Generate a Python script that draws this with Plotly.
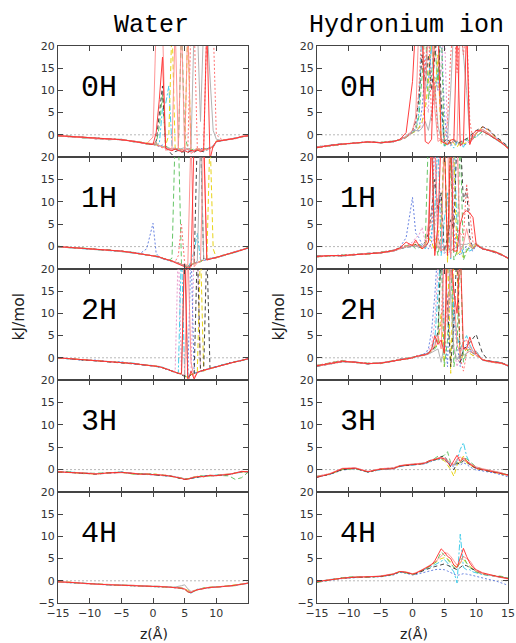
import plotly.graph_objects as go

# shared z grid (Angstrom)
Z = [-15, -13, -11, -9, -7, -5, -3, -2, -1,
     0, 0.5, 1, 1.5, 2, 2.5, 3, 3.5, 4, 4.5,
     5, 5.5, 6, 6.5, 7, 7.5, 8, 8.5, 9, 9.5,
     10, 11, 12, 13, 14, 15]

COLUMN_TITLES = ["Water", "Hydronium ion"]
ROW_LABELS = ["0H", "1H", "2H", "3H", "4H"]
X_TICKS_LEFT = [-15, -10, -5, 0, 5, 10]
X_TICKS_RIGHT = [-15, -10, -5, 0, 5, 10, 15]
Y_TICKS = [0, 5, 10, 15, 20]
Y_TICKS_BOTTOM = [-5, 0, 5, 10, 15, 20]

# ---------------- Water 0H ----------------
W0_BLUE = [-0.2,-0.4,-0.6,-0.8,-1.0,-1.1,-1.5,-1.7,-1.9, -2.2,-2.4,-2.6,-2.3,-2.9,-3.2,-3.4,-3.1,-3.3,-3.6, -3.5,-3.3,-3.7,-3.4,-3.6,-3.0,-3.3,-3.1,-2.8,-2.5, -1.5,-1.3,-1.0,-0.8,-0.5,-0.2]
W0_CYAN = [-0.3,-0.3,-0.7,-0.7,-1.1,-1.0,-1.6,-1.6,-2.1, -2.0,-2.2,-2.0,6.0,7.0,11.0,-2.5,-3.3,-3.5,-3.2, -3.4,-3.6,-3.8,-3.4,-3.1,-3.5,-3.2,-3.5,-3.1,-2.5, -1.6,-1.3,-1.0,-0.8,-0.4,-0.3]
W0_YEL = [-0.2,-0.4,-0.6,-0.8,-1.0,-1.1,-1.5,-1.7,-1.9, -2.0,-2.3,-2.5,-2.8,-2.4,0.0,25,-3.2,-3.0,-3.4, -3.3,25,-3.6,-3.3,-3.2,-3.5,-3.1,-3.3,-3.0,-2.7, -1.4,-1.2,-1.0,-0.8,-0.4,-0.2]
W0_GREEN = [-0.3,-0.3,-0.7,-0.7,-1.1,-1.0,-1.6,-1.6,-2.1, -2.0,-2.1,2.0,9.0,-2.5,-3.0,-3.2,-3.3,-3.0,25, 0.0,-3.0,-3.4,-3.2,-3.5,-3.3,-3.1,-3.4,-2.9,-2.6, -1.5,-1.3,-1.0,-0.8,-0.5,-0.2]
W0_BLACK = [-0.1,-0.5,-0.5,-0.9,-0.9,-1.2,-1.4,-1.8,-2.0, -2.1,-1.5,5.0,11.0,-3.0,-3.6,-4.5,-3.8,-3.5,-3.9, -3.8,-4.0,-3.6,-3.9,-3.5,-3.6,-3.8,-3.2,-3.0,-2.8, -1.5,-1.2,-1.0,-0.8,-0.5,-0.2]
W0_GRAY = [-0.1,-0.5,-0.5,-0.9,-0.9,-1.2,-1.4,-1.8,-2.0, -2.0,-2.2,-2.4,-2.6,-2.9,-3.0,-3.2,-3.0,-3.3,-3.1, -2.9,-3.2,-3.0,25,25,3.0,25,25,12.0,1.0, -1.0,-1.3,-1.0,-0.7,-0.4,-0.2]
W0_RDOT = [-0.2,-0.4,-0.6,-0.8,-1.0,-1.1,-1.5,-1.7,-1.9, -2.1,-2.3,-2.6,-2.9,-3.0,-3.3,-3.1,-3.4,-3.2,-3.5, -3.2,-3.4,25,25,-3.1,-3.3,-3.0,25,25,25, 0.0,-1.2,-1.0,-0.8,-0.4,-0.2]
W0_LRED = [-0.1,-0.5,-0.5,-0.9,-0.9,-1.2,-1.4,-1.8,-2.0, -0.5,25,25,25,-3.5,-3.2,-3.4,-3.0,-3.6,-3.3, -3.5,25,-4.2,-3.8,-3.3,-3.6,-3.2,-3.4,-3.0,-2.8, -1.4,-1.2,-1.1,-0.7,-0.5,-0.1]
W0_LRED2 = [-0.3,-0.3,-0.7,-0.7,-1.1,-1.0,-1.6,-1.6,-2.1, -2.0,-1.8,-2.5,-2.8,-3.1,-3.3,-3.0,25,-3.2,25, -3.4,-3.3,-3.6,-3.5,-3.0,-3.2,-3.5,-3.3,-2.9,-2.6, -1.6,-1.2,-0.9,-0.9,-0.3,-0.3]
W0_RED = [-0.2,-0.4,-0.6,-0.8,-1.0,-1.1,-1.5,-1.7,-1.9, -2.2,0.5,8.0,17.5,-3.0,-3.4,-3.6,-3.2,-3.5,-3.8, -3.6,-3.9,-3.5,-3.7,-3.4,-3.8,-3.5,25,-5.5,-2.5, -1.5,-1.3,-1.0,-0.8,-0.4,-0.2]

# ---------------- Water 1H ----------------
W1_BLUE = [0.0,-0.2,-0.4,-0.6,-0.8,-1.0,-1.3,-1.5,-0.5, 5.2,-1.5,-2.4,-2.7,-3.0,-3.1,-3.4,-3.5,-3.7,-4.0, -4.3,-4.6,-4.1,-3.7,-3.5,-3.2,-3.1,-2.9,-2.6,-2.5, -2.4,-2.1,-1.5,-1.1,-0.7,-0.3]
W1_GREEN = [0.1,-0.3,-0.3,-0.7,-0.7,-1.1,-1.3,-1.7,-1.9, -2.1,-2.1,-2.4,-2.5,-2.9,-3.1,-2.6,25,25,-4.0, -4.3,-4.4,-4.2,-3.7,-3.5,-3.4,-2.9,-2.9,-2.6,-2.7, -2.4,-1.9,-1.7,-1.2,-0.7,-0.2]
W1_RDOT = [0.0,-0.2,-0.4,-0.6,-0.8,-1.0,-1.4,-1.6,-1.8, -2.0,-2.2,-2.3,-2.6,-2.8,-3.0,-3.2,-3.4,-2.0,5.0, -3.8,-4.4,-4.0,-3.8,-3.6,-3.3,-3.0,-2.8,-2.7,-2.6, -2.5,-2.0,-1.6,-1.2,-0.8,-0.3]
W1_CYAN = [-0.1,-0.2,-0.5,-0.6,-0.9,-1.0,-1.5,-1.6,-1.9, -2.0,-2.3,-2.3,-2.7,-2.8,-3.1,-3.2,-3.5,-3.6,-4.0, -4.1,-4.5,-3.5,-1.0,3.0,-3.0,-3.1,-2.8,-2.8,-2.6, -2.5,-2.1,-1.6,-1.3,-0.8,-0.4]
W1_BLACK = [0.0,-0.2,-0.4,-0.6,-0.8,-1.0,-1.4,-1.6,-1.8, -2.0,-2.2,-2.3,-2.6,-2.8,-3.0,-3.2,-3.4,-3.6,-3.9, -4.2,-4.5,-4.2,-3.8,25,25,-3.0,-2.8,-2.7,-2.6, -2.5,-2.0,-1.6,-1.2,-0.8,-0.3]
W1_GRAY = [0.0,-0.3,-0.4,-0.7,-0.8,-1.1,-1.4,-1.7,-1.8, -2.1,-2.2,-2.4,-2.6,-2.9,-3.0,-3.3,-3.4,-3.7,-3.9, -4.3,-4.5,-4.0,-3.9,-3.2,25,-2.6,-2.8,-2.6,-2.6, -2.4,-2.0,-1.6,-1.2,-0.8,-0.3]
W1_YEL = [0.0,-0.2,-0.4,-0.6,-0.8,-1.0,-1.4,-1.6,-1.8, -2.0,-2.2,-2.3,-2.6,-2.8,-3.0,-3.2,-3.4,-3.6,-3.9, -4.2,-4.5,-4.0,-3.8,-3.6,-3.3,-3.0,-2.8,25,-0.5, -2.5,-2.0,-1.6,-1.2,-0.8,-0.3]
W1_LRED = [0.0,-0.2,-0.4,-0.6,-0.8,-1.0,-1.4,-1.6,-1.8, -2.0,-2.2,-2.3,-2.6,-2.8,-3.0,-3.2,-3.4,-3.6,-3.9, -4.2,-4.0,25,-4.5,-3.6,-3.3,25,-3.0,-2.7,-2.6, -2.5,-2.0,-1.6,-1.2,-0.8,-0.3]
W1_RED = [0.0,-0.2,-0.4,-0.6,-0.8,-1.0,-1.4,-1.6,-1.8, -2.0,-2.2,-2.3,-2.6,-2.8,-3.0,-3.2,-3.6,-3.9,-4.1, -4.4,-4.8,-4.5,25,25,25,25,-3.0,-2.8,-2.6, -2.5,-2.0,-1.6,-1.2,-0.8,-0.3]

# ---------------- Water 2H ----------------
W2_PINK = [0.0,-0.2,-0.5,-0.6,-0.9,-1.0,-1.3,-1.5,-1.6, -1.8,-1.9,-2.0,-2.2,-2.5,-2.7,-3.0,-3.0,25,-3.5, -4.0,-4.5,-3.8,25,25,-3.0,-2.8,-2.6,-2.4,-2.2, -2.0,-1.6,-1.2,-0.9,-0.6,-0.2]
W2_CYAN = [-0.1,-0.3,-0.4,-0.7,-0.8,-1.1,-1.2,-1.6,-1.7, -1.7,-2.0,-2.1,-2.1,-2.6,-2.6,-3.1,-3.3,-3.4,25, -3.8,-4.3,-3.9,-3.4,-3.4,-2.9,-2.9,-2.5,-2.5,-2.1, -2.1,-1.5,-1.3,-0.8,-0.7,-0.3]
W2_GRAY = [0.0,-0.2,-0.5,-0.6,-0.9,-1.0,-1.3,-1.5,-1.6, -1.8,-1.9,-2.0,-2.2,-2.5,-2.7,-3.0,-3.2,-3.5,-3.7, 25,-4.0,-3.8,-3.5,-3.3,-3.0,-2.8,-2.6,-2.4,-2.2, -2.0,-1.6,-1.2,-0.9,-0.6,-0.2]
W2_BLUE = [0.1,-0.2,-0.6,-0.5,-0.9,-0.9,-1.4,-1.4,-1.7, -1.8,-2.0,-1.9,-2.3,-2.4,-2.8,-2.9,-3.3,-3.4,-3.8, -4.1,-4.4,25,-3.6,-3.2,-3.1,-2.7,-2.7,-2.3,-2.3, -1.9,-1.7,-1.1,-1.0,-0.5,-0.2]
W2_YEL = [0.0,-0.2,-0.5,-0.6,-0.9,-1.0,-1.3,-1.5,-1.6, -1.8,-1.9,-2.0,-2.2,-2.5,-2.7,-3.0,-3.2,-3.5,-3.7, -4.0,-4.5,-3.8,-3.5,-3.3,25,-3.0,-2.6,-2.4,-2.2, -2.0,-1.6,-1.2,-0.9,-0.6,-0.2]
W2_BLACK = [0.0,-0.3,-0.5,-0.7,-0.9,-1.1,-1.3,-1.5,-1.7, -1.8,-1.9,-2.1,-2.2,-2.5,-2.8,-3.0,-3.2,-3.5,-3.8, -4.1,-4.5,-3.8,-3.6,25,-3.0,-2.9,25,-2.5,-2.2, -2.0,-1.6,-1.2,-0.9,-0.6,-0.2]
W2_LRED = [0.0,-0.2,-0.5,-0.6,-0.9,-1.0,-1.3,-1.5,-1.6, -1.8,-1.9,-2.0,-2.2,-2.5,-2.7,-3.0,-3.2,-3.5,-3.7, -4.0,25,-1.0,-4.5,-3.3,-3.0,-2.8,-2.6,-2.4,-2.2, -2.0,-1.6,-1.2,-0.9,-0.6,-0.2]
W2_RED = [0.0,-0.2,-0.5,-0.6,-0.9,-1.0,-1.3,-1.5,-1.6, -1.8,-1.9,-2.0,-2.2,-2.5,-2.7,-3.0,-3.2,-3.5,-3.5, 25,-5.5,-3.0,-4.8,-3.3,-3.0,-2.8,-2.6,-2.4,-2.2, -2.0,-1.6,-1.2,-0.9,-0.6,-0.2]

# ---------------- Water 3H ----------------
W3_BLUE = [-0.6,-0.6,-0.8,-0.9,-0.8,-0.6,-0.9,-1.0,-1.1, -1.1,-1.1,-1.3,-1.2,-1.3,-1.4,-1.5,-1.6,-1.8,-1.9, -2.1,-2.1,-2.0,-1.8,-1.6,-1.5,-1.5,-1.4,-1.3,-1.3, -1.3,-1.2,-1.1,-0.7,-0.4,-0.5]
W3_CYAN = [-0.4,-0.6,-0.7,-0.9,-0.7,-0.5,-0.9,-1.0,-1.0, -1.0,-1.1,-1.2,-1.2,-1.3,-1.4,-1.4,-1.6,-1.7,-1.9, -2.0,-2.2,-1.9,-1.9,-1.7,-1.6,-1.6,-1.4,-1.3,-1.4, -1.2,-1.2,-1.0,-0.8,-0.5,-0.4]
W3_YEL = [-0.5,-0.6,-0.8,-1.0,-0.7,-0.6,-1.0,-1.0,-1.0, -1.1,-1.0,-1.2,-1.2,-1.3,-1.4,-1.5,-1.6,-1.8,-1.9, -2.1,-2.1,-1.8,-1.7,-1.6,-1.4,-1.6,-1.5,-1.3,-1.3, -1.3,-1.2,-1.0,-0.8,-0.5,-0.5]
W3_GREEN = [-0.5,-0.5,-0.9,-0.8,-0.7,-0.6,-1.0,-0.9,-1.0, -1.0,-1.2,-1.2,-1.2,-1.4,-1.3,-1.6,-1.5,-1.9,-1.8, -2.0,-2.0,-2.1,-1.6,-1.7,-1.4,-1.5,-1.5,-1.4,-1.2, -1.3,-1.3,-1.4,-2.2,-1.8,-0.6]
W3_BLACK = [-0.5,-0.7,-0.8,-1.0,-0.8,-0.6,-0.9,-1.1,-1.0, -1.1,-1.1,-1.2,-1.3,-1.3,-1.4,-1.5,-1.7,-1.8,-2.0, -2.2,-2.2,-1.9,-1.8,-1.6,-1.5,-1.5,-1.4,-1.4,-1.4, -1.3,-1.2,-1.1,-0.8,-0.5,-0.5]
W3_LRED = [-0.4,-0.7,-0.7,-0.9,-0.8,-0.7,-0.8,-1.1,-0.9, -1.2,-1.1,-1.1,-1.3,-1.2,-1.5,-1.4,-1.7,-1.7,-1.9, -2.1,-2.2,-1.8,-1.7,-1.5,-1.6,-1.5,-1.5,-1.2,-1.3, -1.4,-1.1,-1.0,-0.8,-0.5,-0.4]
W3_RED = [-0.5,-0.6,-0.8,-1.0,-0.7,-0.6,-0.9,-1.0,-1.0, -1.1,-1.0,-1.2,-1.1,-1.3,-1.4,-1.5,-1.6,-1.8,-2.0, -2.2,-2.1,-1.9,-1.8,-1.6,-1.5,-1.6,-1.4,-1.3,-1.4, -1.3,-1.2,-1.1,-0.7,-0.4,-0.5]

# ---------------- Water 4H ----------------
W4_BLUE = [-0.3,-0.4,-0.6,-0.8,-0.9,-1.1,-1.1,-1.2,-1.2, -1.3,-1.3,-1.3,-1.4,-1.4,-1.5,-1.5,-1.6,-1.6,-1.7, -1.9,-2.3,-2.5,-2.2,-1.9,-1.8,-1.7,-1.6,-1.5,-1.4, -1.4,-1.3,-1.2,-1.0,-0.8,-0.6]
W4_CYAN = [-0.2,-0.4,-0.5,-0.7,-0.9,-1.0,-1.0,-1.1,-1.2, -1.2,-1.2,-1.2,-1.3,-1.4,-1.4,-1.4,-1.5,-1.5,-1.6, -1.8,-2.4,-2.8,-2.3,-2.0,-1.8,-1.6,-1.6,-1.5,-1.4, -1.4,-1.3,-1.2,-1.0,-0.7,-0.5]
W4_YEL = [-0.2,-0.3,-0.6,-0.7,-0.8,-1.0,-1.1,-1.1,-1.1, -1.2,-1.3,-1.3,-1.3,-1.3,-1.4,-1.5,-1.5,-1.6,-1.6, -1.8,-2.2,-2.5,-2.2,-2.1,-1.9,-1.6,-1.5,-1.5,-1.4, -1.3,-1.3,-1.1,-1.0,-0.8,-0.5]
W4_GREEN = [-0.3,-0.4,-0.6,-0.7,-0.9,-1.0,-1.1,-1.2,-1.2, -1.2,-1.3,-1.3,-1.4,-1.4,-1.4,-1.5,-1.5,-1.6,-1.7, -1.9,-2.5,-2.6,-2.4,-2.0,-1.9,-1.7,-1.7,-1.5,-1.5, -1.5,-1.3,-1.2,-1.1,-0.8,-0.5]
W4_GRAY = [-0.2,-0.4,-0.5,-0.7,-0.9,-0.9,-1.1,-1.1,-1.2, -1.2,-1.3,-1.3,-1.3,-1.4,-1.4,-1.5,-1.4,-1.3,-1.1, -0.9,-1.8,-2.4,-2.2,-2.0,-1.8,-1.7,-1.6,-1.4,-1.5, -1.4,-1.3,-1.2,-1.0,-0.8,-0.5]
W4_LRED = [-0.3,-0.3,-0.6,-0.8,-0.8,-1.0,-1.0,-1.2,-1.1, -1.3,-1.2,-1.2,-1.4,-1.3,-1.5,-1.4,-1.6,-1.6,-1.6, -1.8,-2.3,-2.5,-2.2,-2.1,-1.8,-1.8,-1.5,-1.6,-1.4, -1.5,-1.2,-1.3,-1.0,-0.7,-0.6]
W4_RED = [-0.2,-0.4,-0.6,-0.7,-0.9,-1.0,-1.1,-1.1,-1.2, -1.2,-1.2,-1.3,-1.3,-1.4,-1.4,-1.5,-1.5,-1.6,-1.7, -1.9,-2.5,-2.7,-2.3,-2.0,-1.9,-1.7,-1.6,-1.5,-1.5, -1.4,-1.3,-1.2,-1.0,-0.8,-0.5]

# ---------------- Hydronium 0H ----------------
H0_BLUE = [-2.8,-2.4,-2.1,-1.9,-1.6,-1.8,-1.5,-1.1,-0.5, 0.8,1.2,1.0,6.0,15.0,25,12.0,13.0,10.0,25, 5.0,-2.0,-2.5,-1.5,-2.2,-1.8,-2.5,-2.0,-1.5,-1.0, 0.2,1.8,1.0,-0.5,-1.6,-3.2]
H0_PINK = [-2.9,-2.5,-2.2,-1.8,-1.7,-1.7,-1.4,-1.2,-0.6, 0.5,1.0,2.0,1.5,8.0,5.0,25,25,10.0,14.0, 25,0.0,-2.0,-1.5,-1.8,-2.5,-1.0,-1.5,-1.8,-1.0, 0.5,1.2,0.3,-0.8,-1.8,-3.0]
H0_CYAN = [-2.7,-2.3,-2.0,-1.9,-1.5,-1.8,-1.6,-1.0,-0.4, 0.6,1.5,5.0,25,10.0,12.0,20.0,9.0,15.0,6.0, -2.8,-1.8,-2.0,-3.0,-1.5,-2.0,-2.8,-1.2,-1.0,-0.5, -0.5,0.8,0.0,-1.0,-2.0,-2.8]
H0_YEL = [-2.8,-2.4,-2.1,-1.9,-1.6,-1.8,-1.5,-1.1,-0.5, 0.4,0.8,1.5,3.0,6.0,12.0,25,8.0,18.0,-2.0, -1.5,-2.5,-1.0,-2.0,-2.8,-1.5,-2.0,-1.8,-1.2,-0.8, 0.2,1.8,1.0,-0.5,-1.6,-3.2]
H0_GREEN = [-2.9,-2.5,-2.2,-1.8,-1.7,-1.7,-1.4,-1.2,-0.6, 0.5,1.0,4.0,13.0,25,8.0,14.0,20.0,12.0,25, -2.5,-1.5,-2.0,-1.0,-1.6,-2.2,-1.4,-1.0,-1.4,-0.6, -0.5,0.8,0.0,-1.0,-2.0,-2.8]
H0_BLACK = [-2.7,-2.3,-2.0,-1.9,-1.5,-1.8,-1.6,-1.0,-0.4, 1.0,3.0,8.0,18.0,12.0,18.0,10.0,16.0,25,8.0, -1.5,-1.0,-1.8,-1.2,-2.0,-1.6,-1.2,-0.8,-0.5,0.5, 1.0,1.8,1.2,-0.3,-1.4,-2.6]
H0_GRAY = [-2.8,-2.4,-2.1,-1.9,-1.6,-1.8,-1.5,-1.1,-0.5, 0.5,1.0,0.8,1.5,3.0,1.0,5.0,11.0,2.0,-1.0, -1.2,-1.0,10.0,25,25,25,18.0,10.0,0.0,-0.8, 0.5,1.2,0.3,-0.8,-1.8,-3.0]
H0_RDOT = [-2.9,-2.5,-2.2,-1.8,-1.7,-1.7,-1.4,-1.2,-0.6, 0.6,2.0,10.0,25,14.0,25,3.0,12.0,-0.5,-1.5, -1.0,3.0,18.0,25,14.0,25,18.0,25,3.0,-1.0, 0.2,1.8,1.0,-0.5,-1.6,-3.2]
H0_LRED = [-2.7,-2.3,-2.0,-1.9,-1.5,-1.8,-1.6,-1.0,-0.4, 1.0,4.0,25,25,8.0,25,25,6.0,-1.5,-1.0, -2.0,-1.5,-2.2,-1.0,-1.5,25,25,25,-2.0,-0.5, 0.5,1.2,0.3,-0.8,-1.8,-3.0]
H0_RED = [-2.9,-2.4,-2.1,-1.9,-1.6,-1.8,-1.5,-1.1,0.5, 12.0,25,25,25,-1.5,-2.0,-1.0,25,25,-1.5, -1.8,-2.2,-1.2,-1.0,25,-2.5,-1.8,25,-2.2,0.2, 1.0,0.8,0.0,-0.9,-1.8,-3.0]

# ---------------- Hydronium 1H ----------------
H1_BLUE = [-2.2,-2.0,-1.9,-1.8,-1.6,-1.3,-0.8,-0.2,2.0, 11.0,3.0,2.0,0.5,0.0,-0.5,1.0,25,2.0,-1.0, -1.5,-0.5,25,3.0,-1.0,-2.0,-0.5,0.0,-0.5,-1.0, 0.3,-0.6,-0.9,-1.3,-1.9,-2.6]
H1_PINK = [-2.3,-2.1,-1.9,-1.7,-1.7,-1.3,-0.8,-0.3,0.2, 1.0,2.0,2.5,4.3,1.0,0.5,-0.5,3.0,25,4.0, -1.0,-2.0,-0.5,15.0,25,-0.5,-1.5,-1.0,0.0,-0.5, 0.5,-0.5,-0.8,-1.2,-1.8,-2.6]
H1_CYAN = [-2.1,-2.0,-2.1,-1.8,-1.5,-1.4,-1.0,-0.5,-0.1, 0.2,0.0,0.5,0.3,-0.5,1.0,3.0,8.0,25,-2.0, 6.0,12.0,-3.0,25,4.0,0.0,-1.5,-0.5,-1.0,-0.5, 0.2,-0.3,-0.9,-1.3,-1.9,-2.5]
H1_YEL = [-2.2,-2.0,-2.0,-1.8,-1.6,-1.4,-0.9,-0.4,0.0, 0.3,0.5,0.0,-0.5,0.5,2.0,1.0,-1.0,3.0,5.0, 25,-3.5,25,20.0,-2.0,-1.0,-2.5,-1.0,0.5,-0.5, 0.8,-0.6,-0.7,-1.1,-1.7,-2.7]
H1_GREEN = [-2.3,-2.1,-1.9,-1.7,-1.7,-1.3,-0.8,-0.3,0.2, 0.2,-0.5,0.5,0.0,0.5,25,25,2.0,-2.0,3.0, 25,-1.5,20.0,-3.0,-1.0,25,-3.0,-1.0,0.0,-0.5, 0.5,-0.5,-0.8,-1.2,-1.8,-2.6]
H1_BLACK = [-2.1,-2.0,-2.1,-1.8,-1.5,-1.4,-1.0,-0.5,-0.1, 0.0,0.5,-0.3,0.2,1.0,3.0,8.0,15.0,8.0,12.0, -1.0,2.0,6.0,4.0,25,25,10.0,13.0,2.0,-0.5, 0.2,-0.3,-0.9,-1.3,-1.9,-2.5]
H1_GRAY = [-2.2,-2.0,-2.0,-1.8,-1.6,-1.4,-0.9,-0.4,0.0, 0.1,0.2,-0.2,0.0,0.0,1.0,25,-1.0,0.0,-0.5, -1.0,0.5,-1.0,-0.5,0.0,0.5,0.5,0.5,0.8,0.3, 0.8,-0.6,-0.7,-1.1,-1.7,-2.7]
H1_RDOT = [-2.3,-2.1,-1.9,-1.7,-1.7,-1.3,-0.8,-0.3,0.2, 0.5,1.0,0.2,-0.3,0.8,2.0,6.0,25,2.0,-1.0, -0.5,1.0,-1.5,0.0,4.0,3.0,2.0,14.0,8.0,1.0, 0.5,-0.5,-0.8,-1.2,-1.8,-2.6]
H1_LRED = [-2.1,-2.0,-2.1,-1.8,-1.5,-1.4,-1.0,-0.5,-0.1, 0.4,0.0,0.3,-0.2,0.5,5.0,25,25,0.0,-1.0, 25,25,-2.5,25,25,-1.0,0.5,4.0,1.0,-0.5, 0.2,-0.3,-0.9,-1.3,-1.9,-2.5]
H1_RED = [-2.2,-2.0,-2.0,-1.8,-1.6,-1.4,-0.9,-0.3,1.0, 0.2,1.5,0.3,-0.5,0.0,1.0,25,-2.0,5.0,25, 25,-2.0,25,-1.0,-1.0,5.0,7.5,8.0,7.5,6.5, 0.5,-0.5,-0.8,-1.2,-1.8,-2.6]

# ---------------- Hydronium 2H ----------------
H2_BLUE = [-1.8,-1.3,-0.8,-1.0,-1.3,-1.2,-0.7,-0.4,-0.2, 0.0,0.3,0.5,0.7,1.0,2.0,6.0,14.0,25,25, 6.0,-2.0,25,8.0,3.0,-2.0,2.0,3.0,2.0,1.0, 0.5,-0.3,-0.9,-1.1,-1.3,-1.7]
H2_PINK = [-1.7,-1.2,-0.6,-1.1,-1.2,-1.3,-0.6,-0.5,-0.1, 0.1,0.3,0.4,0.6,0.8,1.5,3.0,8.0,20.0,25, 4.0,12.0,25,2.0,-2.0,1.0,2.5,2.0,1.5,0.5, 1.0,-0.5,-0.8,-1.0,-1.2,-1.8]
H2_CYAN = [-1.9,-1.4,-0.9,-0.9,-1.4,-1.1,-0.8,-0.3,-0.3, 0.0,0.2,0.4,0.6,0.8,1.2,2.0,4.0,15.0,25, 25,20.0,25,10.0,5.0,2.0,3.5,5.0,3.0,1.5, 1.5,-0.6,-0.7,-0.9,-1.1,-1.9]
H2_YEL = [-1.8,-1.3,-0.8,-1.0,-1.3,-1.2,-0.7,-0.4,-0.2, 0.0,0.3,0.4,0.5,0.7,1.0,1.5,2.5,3.0,10.0, -2.0,25,-3.5,25,20.0,-1.0,1.0,2.0,1.0,0.5, 0.5,-0.3,-0.9,-1.1,-1.3,-1.7]
H2_GREEN = [-1.7,-1.2,-0.6,-1.1,-1.2,-1.3,-0.6,-0.5,-0.1, 0.1,0.3,0.4,0.6,0.7,1.0,1.8,2.0,3.0,25, -2.0,4.0,25,-2.0,3.0,25,-1.0,1.5,2.0,1.0, 1.0,-0.5,-0.8,-1.0,-1.2,-1.8]
H2_BLACK = [-1.9,-1.4,-0.9,-0.9,-1.4,-1.1,-0.8,-0.3,-0.3, 0.0,0.3,0.4,0.6,0.7,1.0,1.5,2.5,6.0,25, 25,10.0,-2.0,8.0,25,-1.0,2.0,2.5,3.5,4.5, 5.3,1.0,-0.7,-0.9,-1.1,-1.7]
H2_GRAY = [-1.8,-1.3,-0.8,-1.0,-1.3,-1.2,-0.7,-0.4,-0.2, 0.0,0.2,0.3,0.5,0.6,0.8,1.2,1.5,2.0,-1.0, 3.0,25,12.0,2.0,-0.5,1.0,0.5,1.0,1.5,1.0, 1.5,-0.6,-0.7,-0.9,-1.1,-1.9]
H2_RDOT = [-1.7,-1.2,-0.6,-1.1,-1.2,-1.3,-0.6,-0.5,-0.1, 0.0,0.3,0.4,0.6,0.7,1.0,2.0,2.5,4.0,8.0, 25,25,25,25,25,0.0,-3.0,1.0,2.0,1.0, 1.0,-0.5,-0.8,-1.0,-1.2,-1.8]
H2_LRED = [-1.9,-1.4,-0.9,-0.9,-1.4,-1.1,-0.8,-0.3,-0.3, 0.0,0.3,0.4,0.6,0.7,1.0,1.5,3.0,5.0,2.0, 25,8.0,20.0,15.0,3.0,1.0,3.5,4.0,2.5,1.5, 0.5,-0.3,-0.9,-1.1,-1.3,-1.7]
H2_RED = [-1.8,-1.3,-0.8,-1.0,-1.3,-1.2,-0.7,-0.4,-0.2, 0.0,0.3,0.4,0.6,0.7,1.0,2.0,5.0,3.0,4.0, 1.0,25,25,15.0,10.0,25,2.0,2.0,4.7,2.5, 1.0,-0.5,-0.8,-1.0,-1.2,-1.8]

# ---------------- Hydronium 3H ----------------
H3_BLUE = [-1.7,-1.1,-0.1,0.2,-0.6,0.0,0.2,0.7,0.9, 1.0,1.0,1.1,1.2,1.3,1.6,1.9,2.1,2.2,2.3, 2.1,1.6,1.0,0.6,1.5,1.0,1.5,1.2,0.6,0.2, -0.1,-0.3,-0.5,-0.8,-1.2,-1.6]
H3_PINK = [-1.5,-0.9,0.2,0.4,-0.4,0.2,0.4,0.9,1.1, 1.2,1.2,1.3,1.4,1.5,1.9,2.1,2.4,2.6,2.5, 2.2,1.9,1.4,1.2,2.2,2.0,2.3,2.1,1.5,1.0, 0.5,0.1,-0.2,-0.5,-0.8,-1.2]
H3_CYAN = [-1.6,-1.1,0.1,0.3,-0.6,0.0,0.3,0.7,1.0, 1.0,1.1,1.2,1.3,1.4,1.7,2.0,2.2,2.3,2.4, 2.2,1.8,1.3,1.0,2.0,4.5,6.0,3.0,1.5,0.8, 0.4,0.1,-0.2,-0.5,-0.8,-1.3]
H3_YEL = [-1.6,-1.0,0.0,0.3,-0.5,0.1,0.3,0.8,1.0, 1.1,1.1,1.2,1.3,1.4,1.8,2.0,2.2,2.4,2.3, 2.0,1.0,0.0,-1.5,1.0,2.0,3.0,1.5,1.0,0.5, 0.2,0.0,-0.3,-0.6,-0.9,-1.3]
H3_GREEN = [-1.5,-1.0,0.1,0.2,-0.5,0.1,0.3,0.8,1.0, 1.1,1.2,1.2,1.4,1.5,1.9,2.2,2.5,3.0,2.8, 3.2,4.0,1.5,1.0,1.8,1.5,2.6,2.4,1.8,1.2, 0.6,0.1,-0.2,-0.4,-0.7,-1.1]
H3_BLACK = [-1.7,-1.0,0.0,0.3,-0.5,0.1,0.3,0.8,0.9, 1.1,1.1,1.2,1.3,1.4,1.7,2.0,2.2,2.4,2.9, 3.0,2.0,0.5,0.0,1.5,1.2,2.0,1.8,1.0,0.6, 0.3,-0.1,-0.4,-0.6,-0.9,-1.2]
H3_LRED = [-1.5,-0.9,0.3,0.4,-0.4,0.2,0.4,0.9,1.1, 1.2,1.2,1.3,1.4,1.5,1.8,2.0,2.3,2.6,2.7, 2.5,2.0,1.5,1.0,2.4,2.8,2.2,1.8,1.4,1.0, 0.6,0.2,-0.1,-0.4,-0.7,-1.4]
H3_RED = [-1.7,-1.0,0.2,0.3,-0.5,0.1,0.2,0.8,1.0, 1.1,1.1,1.2,1.3,1.5,1.9,2.1,2.3,2.5,2.6, 2.4,1.5,0.8,2.0,3.2,1.8,2.6,2.0,1.2,0.8, 0.3,0.0,-0.3,-0.5,-0.8,-1.2]

# ---------------- Hydronium 4H ----------------
H4_BLUE = [-0.3,0.1,0.5,0.7,0.8,0.9,1.3,1.9,1.7, 1.3,1.4,1.6,1.8,2.0,2.2,2.4,2.5,2.6,2.6, 2.5,2.2,1.8,1.5,1.2,1.4,1.6,1.5,1.4,1.2, 1.0,0.6,0.3,0.0,-0.5,-1.0]
H4_CYAN = [-0.2,0.3,0.6,0.8,0.9,1.0,1.5,2.0,1.9, 1.4,1.6,1.9,2.3,2.6,2.9,3.2,3.6,4.0,4.5, 4.8,4.0,3.0,2.0,-0.5,10.5,3.0,2.5,2.5,2.0, 1.8,1.4,1.2,1.0,0.8,0.6]
H4_YEL = [-0.2,0.2,0.6,0.8,0.9,1.0,1.5,2.1,1.9, 1.5,1.7,2.0,2.4,2.8,3.1,3.5,4.0,4.5,5.0, 5.2,5.0,4.2,3.5,3.0,4.0,4.8,4.0,3.2,2.6, 2.1,1.6,1.3,1.1,0.8,0.6]
H4_GREEN = [-0.4,0.1,0.7,1.0,0.8,1.0,1.4,2.0,1.8, 1.5,1.6,2.0,2.3,2.7,3.0,3.8,4.0,5.0,6.5, 5.8,4.8,4.0,3.0,2.8,4.5,5.5,4.0,3.0,2.4, 2.0,1.5,1.2,1.2,1.0,0.6]
H4_BLACK = [-0.2,0.2,0.6,0.8,0.9,1.0,1.5,2.1,1.9, 1.5,1.6,1.9,2.2,2.5,2.8,3.0,3.2,3.4,3.6, 3.8,3.5,3.2,2.8,2.5,3.0,3.6,3.4,3.0,2.6, 2.2,1.6,1.3,1.0,0.8,0.5]
H4_LRED = [-0.1,0.2,0.5,0.9,0.9,1.1,1.6,2.1,2.0, 1.6,1.8,2.1,2.5,2.9,3.3,3.8,4.2,4.8,5.5, 6.3,6.2,5.5,4.5,3.5,4.0,5.5,5.0,4.5,3.5, 2.2,1.6,1.3,1.0,0.7,0.4]
H4_RED = [-0.2,0.2,0.6,0.8,0.9,1.0,1.5,2.1,1.9, 1.5,1.7,2.0,2.4,2.8,3.2,3.6,4.5,6.0,7.2, 6.5,5.5,5.0,3.5,3.0,5.0,7.3,5.5,4.0,3.0, 2.5,1.8,1.4,1.1,0.8,0.5]

STYLE = {
    "RED":   ("#ff2a2a", "solid"),
    "LRED":  ("#ff8a8a", "solid"),
    "RDOT":  ("#ff6464", "2px,2px"),
    "PINK":  ("#e890c8", "2px,2px"),
    "GREEN": ("#58c058", "5px,3px"),
    "BLUE":  ("#5a78e0", "2px,2px"),
    "CYAN":  ("#30c8e8", "6px,2px,2px,2px"),
    "YEL":   ("#e6d000", "5px,3px"),
    "GRAY":  ("#aaaaaa", "solid"),
    "BLACK": ("#303030", "4px,3px"),
}

PANELS = [
    [[("BLUE", W0_BLUE), ("CYAN", W0_CYAN), ("YEL", W0_YEL), ("GREEN", W0_GREEN), ("BLACK", W0_BLACK),
      ("GRAY", W0_GRAY), ("RDOT", W0_RDOT), ("LRED", W0_LRED), ("LRED", W0_LRED2), ("RED", W0_RED)],
     [("BLUE", H0_BLUE), ("PINK", H0_PINK), ("CYAN", H0_CYAN), ("YEL", H0_YEL), ("GREEN", H0_GREEN),
      ("BLACK", H0_BLACK), ("GRAY", H0_GRAY), ("RDOT", H0_RDOT), ("LRED", H0_LRED), ("RED", H0_RED)]],
    [[("BLUE", W1_BLUE), ("CYAN", W1_CYAN), ("YEL", W1_YEL), ("GREEN", W1_GREEN), ("BLACK", W1_BLACK),
      ("GRAY", W1_GRAY), ("RDOT", W1_RDOT), ("LRED", W1_LRED), ("RED", W1_RED)],
     [("BLUE", H1_BLUE), ("PINK", H1_PINK), ("CYAN", H1_CYAN), ("YEL", H1_YEL), ("GREEN", H1_GREEN),
      ("BLACK", H1_BLACK), ("GRAY", H1_GRAY), ("RDOT", H1_RDOT), ("LRED", H1_LRED), ("RED", H1_RED)]],
    [[("PINK", W2_PINK), ("CYAN", W2_CYAN), ("GRAY", W2_GRAY), ("BLUE", W2_BLUE), ("YEL", W2_YEL),
      ("BLACK", W2_BLACK), ("LRED", W2_LRED), ("RED", W2_RED)],
     [("BLUE", H2_BLUE), ("PINK", H2_PINK), ("CYAN", H2_CYAN), ("YEL", H2_YEL), ("GREEN", H2_GREEN),
      ("BLACK", H2_BLACK), ("GRAY", H2_GRAY), ("RDOT", H2_RDOT), ("LRED", H2_LRED), ("RED", H2_RED)]],
    [[("BLUE", W3_BLUE), ("CYAN", W3_CYAN), ("YEL", W3_YEL), ("GREEN", W3_GREEN), ("BLACK", W3_BLACK),
      ("LRED", W3_LRED), ("RED", W3_RED)],
     [("BLUE", H3_BLUE), ("PINK", H3_PINK), ("CYAN", H3_CYAN), ("YEL", H3_YEL), ("GREEN", H3_GREEN),
      ("BLACK", H3_BLACK), ("LRED", H3_LRED), ("RED", H3_RED)]],
    [[("BLUE", W4_BLUE), ("CYAN", W4_CYAN), ("YEL", W4_YEL), ("GREEN", W4_GREEN), ("GRAY", W4_GRAY),
      ("LRED", W4_LRED), ("RED", W4_RED)],
     [("BLUE", H4_BLUE), ("CYAN", H4_CYAN), ("YEL", H4_YEL), ("GREEN", H4_GREEN), ("BLACK", H4_BLACK),
      ("LRED", H4_LRED), ("RED", H4_RED)]],
]

W, H = 516, 643
COL_X = [(58, 248), (317, 508)]
ROW_EDGES = [46, 157, 269, 380, 492, 603]

fig = go.Figure()
layout = dict(width=W, height=H, margin=dict(l=0, r=0, t=0, b=0, autoexpand=False),
              paper_bgcolor="white", plot_bgcolor="white", showlegend=False)
annotations = []
shapes = []
AXC = "#444444"
TICKFONT = dict(family="DejaVu Sans", size=11, color="#333333")

for r in range(5):
    for c in range(2):
        n = r * 2 + c + 1
        xs = "x" if n == 1 else f"x{n}"
        ys = "y" if n == 1 else f"y{n}"
        xk = "xaxis" if n == 1 else f"xaxis{n}"
        yk = "yaxis" if n == 1 else f"yaxis{n}"
        for name, vals in PANELS[r][c]:
            assert len(vals) == len(Z), (r, c, name, len(vals))
            col, dash = STYLE[name]
            fig.add_trace(go.Scatter(x=Z, y=vals, mode="lines", xaxis=xs, yaxis=ys,
                                     line=dict(color=col, width=1, dash=dash),
                                     opacity=0.9, hoverinfo="skip"))
        x0, x1 = COL_X[c]
        ytop, ybot = ROW_EDGES[r], ROW_EDGES[r + 1]
        xt = X_TICKS_LEFT if c == 0 else X_TICKS_RIGHT
        layout[xk] = dict(domain=[x0 / W, x1 / W], range=[-15, 15], anchor=ys, automargin=False,
                          tickvals=xt, ticks="inside", ticklen=5, tickwidth=1, tickcolor=AXC,
                          showticklabels=(r == 4), tickfont=TICKFONT,
                          showline=True, linecolor=AXC, linewidth=1.3, mirror="ticks",
                          showgrid=False, zeroline=False)
        layout[yk] = dict(domain=[1 - ybot / H, 1 - ytop / H], range=[-5, 20], anchor=xs,
                          automargin=False,
                          tickvals=(Y_TICKS_BOTTOM if r == 4 else Y_TICKS),
                          ticks="inside", ticklen=5, tickwidth=1, tickcolor=AXC,
                          tickfont=TICKFONT, showline=True, linecolor=AXC, linewidth=1.3,
                          mirror="ticks", showgrid=False, zeroline=False)
        shapes.append(dict(type="line", xref=f"{xs} domain", yref=ys, x0=0, x1=1, y0=0, y1=0,
                           line=dict(color="#b8b8b8", width=1, dash="2px,2px"), layer="below"))
        annotations.append(dict(text=ROW_LABELS[r], xref=xs, yref=ys, x=-8.6, y=10.6,
                                showarrow=False, xanchor="center", yanchor="middle",
                                font=dict(family="Liberation Mono", size=30, color="black")))

for c, title in enumerate(COLUMN_TITLES):
    cx = [151, 406.5][c]
    annotations.append(dict(text=title, xref="paper", yref="paper", x=cx / W, y=1 - 25 / H,
                            showarrow=False, xanchor="center", yanchor="middle",
                            font=dict(family="Liberation Mono", size=25, color="black")))
    kx = [18.5, 278.5][c]
    annotations.append(dict(text="kJ/mol", xref="paper", yref="paper", x=kx / W, y=1 - 317 / H,
                            showarrow=False, textangle=-90, xanchor="center", yanchor="middle",
                            font=dict(family="DejaVu Sans", size=15.5, color="#222222")))
    zx = [154, 414][c]
    annotations.append(dict(text="z(Å)", xref="paper", yref="paper", x=zx / W, y=1 - 634 / H,
                            showarrow=False, xanchor="center", yanchor="middle",
                            font=dict(family="DejaVu Sans", size=14, color="#222222")))

layout["annotations"] = annotations
layout["shapes"] = shapes
fig.update_layout(**layout)
fig.write_html("out.html", config={"displayModeBar": False},
               post_script="document.body.style.margin='0';")
